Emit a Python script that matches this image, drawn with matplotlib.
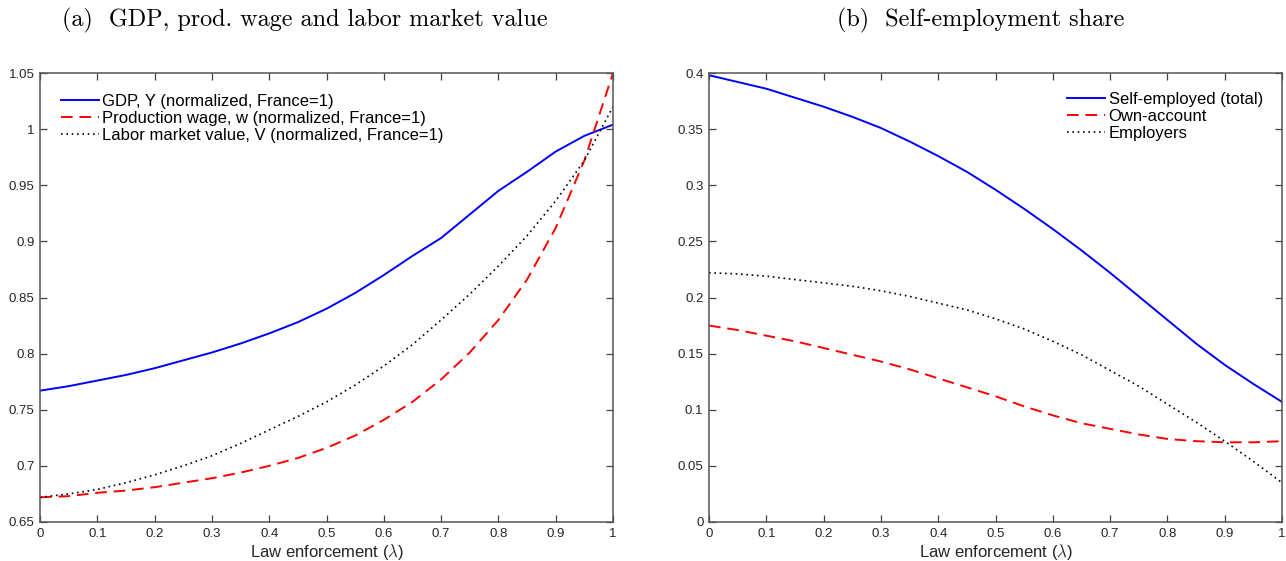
import numpy as np
import matplotlib
matplotlib.use('Agg')
import matplotlib.pyplot as plt

plt.rcParams['font.family'] = 'Liberation Sans'
plt.rcParams['mathtext.fontset'] = 'cm'

# Law enforcement grid
lam = [0.0, 0.05, 0.1, 0.15, 0.2, 0.25, 0.3, 0.35, 0.4, 0.45, 0.5,
       0.55, 0.6, 0.65, 0.7, 0.75, 0.8, 0.85, 0.9, 0.95, 1.0]

# Panel (a)
gdp = [0.767, 0.771, 0.776, 0.781, 0.787, 0.794, 0.801, 0.809, 0.818, 0.828, 0.840,
       0.854, 0.870, 0.887, 0.903, 0.924, 0.945, 0.962, 0.980, 0.994, 1.004]
wage = [0.672, 0.673, 0.676, 0.678, 0.681, 0.685, 0.689, 0.694, 0.700, 0.707, 0.716,
        0.727, 0.741, 0.757, 0.777, 0.801, 0.830, 0.866, 0.912, 0.972, 1.050]
lmv = [0.672, 0.675, 0.679, 0.685, 0.692, 0.700, 0.709, 0.720, 0.732, 0.744, 0.757,
       0.772, 0.789, 0.808, 0.830, 0.853, 0.878, 0.905, 0.936, 0.972, 1.020]

# Panel (b)
self_total = [0.398, 0.392, 0.386, 0.378, 0.370, 0.361, 0.351, 0.339, 0.326, 0.312, 0.296,
              0.279, 0.261, 0.242, 0.222, 0.201, 0.180, 0.159, 0.140, 0.123, 0.107]
own_account = [0.175, 0.171, 0.166, 0.161, 0.155, 0.149, 0.143, 0.136, 0.128, 0.120, 0.112,
               0.103, 0.095, 0.088, 0.083, 0.078, 0.074, 0.072, 0.071, 0.071, 0.072]
employers = [0.222, 0.221, 0.219, 0.216, 0.213, 0.210, 0.206, 0.201, 0.195, 0.189, 0.181,
             0.172, 0.161, 0.149, 0.135, 0.121, 0.105, 0.089, 0.072, 0.054, 0.035]

xticks = [0, 0.1, 0.2, 0.3, 0.4, 0.5, 0.6, 0.7, 0.8, 0.9, 1]
xtick_labels = ['0', '0.1', '0.2', '0.3', '0.4', '0.5', '0.6', '0.7', '0.8', '0.9', '1']
yticks_a = [0.65, 0.7, 0.75, 0.8, 0.85, 0.9, 0.95, 1, 1.05]
ytick_labels_a = ['0.65', '0.7', '0.75', '0.8', '0.85', '0.9', '0.95', '1', '1.05']
yticks_b = [0, 0.05, 0.1, 0.15, 0.2, 0.25, 0.3, 0.35, 0.4]
ytick_labels_b = ['0', '0.05', '0.1', '0.15', '0.2', '0.25', '0.3', '0.35', '0.4']

fig = plt.figure(figsize=(12.86, 5.61), dpi=100)
ax1 = fig.add_axes([40 / 1286, 39 / 561, 573 / 1286, 449 / 561])
ax2 = fig.add_axes([709 / 1286, 39 / 561, 573 / 1286, 449 / 561])

dash = (0, (6, 3.5))
dot = (0, (1, 2.2))

ax1.plot(lam, gdp, color='#0000ff', lw=1.4, label='GDP, Y (normalized, France=1)')
ax1.plot(lam, wage, color='#ff0000', lw=1.4, linestyle=dash,
         label='Production wage, w (normalized, France=1)')
ax1.plot(lam, lmv, color='black', lw=1.2, linestyle=dot,
         label='Labor market value, V (normalized, France=1)')
ax1.set_ylim(0.65, 1.05)
ax1.set_yticks(yticks_a)
ax1.set_yticklabels(ytick_labels_a)

ax2.plot(lam, self_total, color='#0000ff', lw=1.4, label='Self-employed (total)')
ax2.plot(lam, own_account, color='#ff0000', lw=1.4, linestyle=dash, label='Own-account')
ax2.plot(lam, employers, color='black', lw=1.2, linestyle=dot, label='Employers')
ax2.set_ylim(0, 0.4)
ax2.set_yticks(yticks_b)
ax2.set_yticklabels(ytick_labels_b)

for ax in (ax1, ax2):
    ax.set_xlim(0, 1)
    ax.set_xticks(xticks)
    ax.set_xticklabels(xtick_labels)
    ax.tick_params(direction='in', top=True, right=True, length=5, width=0.9,
                   color='#404040', labelsize=9.5, labelcolor='#262626', pad=4)
    for sp in ax.spines.values():
        sp.set_color('#555555')
        sp.set_linewidth(1.1)
    ax.set_xlabel(r'Law enforcement ($\lambda$)', fontsize=12, color='#262626', labelpad=1.5)

ax1.legend(loc='upper left', frameon=False, fontsize=12, handlelength=2.3,
           handletextpad=0.2, labelspacing=0.12, borderaxespad=0.85)
ax2.legend(loc='upper right', frameon=False, fontsize=12, handlelength=2.3,
           handletextpad=0.2, labelspacing=0.12, borderaxespad=0.75)

fig.text(305 / 1286, 1 - 20 / 561, '(a)  GDP, prod. wage and labor market value',
         family='cmr10', fontsize=17.4, ha='center', va='center')
fig.text(981 / 1286, 1 - 20 / 561, '(b)  Self-employment share',
         family='cmr10', fontsize=17.4, ha='center', va='center')

plt.savefig('out.png', dpi=100)
plt.close()
